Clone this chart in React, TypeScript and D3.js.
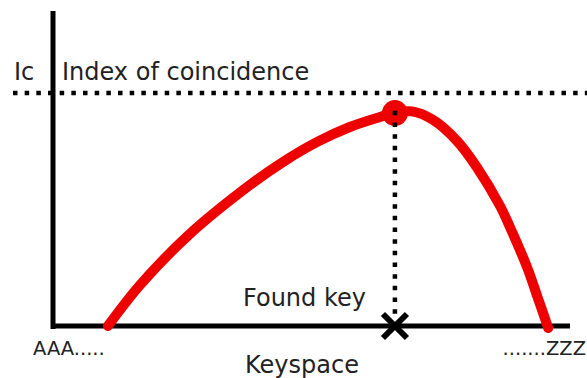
import React from "react";
import * as d3 from "d3";

// Keyspace position (fraction of keyspace) and normalized index of coincidence
const keyPositions = [0.108, 0.17, 0.266, 0.382, 0.446, 0.512, 0.575, 0.627, 0.662, 0.695, 0.736, 0.782, 0.82, 0.865, 0.884, 0.917, 0.938, 0.958];
const icValues = [0.0, 0.176, 0.395, 0.605, 0.704, 0.79, 0.854, 0.893, 0.914, 0.921, 0.884, 0.794, 0.682, 0.515, 0.425, 0.253, 0.12, -0.009];

const foundKey = 0.662;
const foundIc = 0.918;
const maxIc = 1.0;

const xLabels = ["AAA.....", ".......ZZZ"];
const axisTitles = ["Keyspace", "Ic", "Index of coincidence", "Found key"];

export default function App() {
  const W = 587;
  const H = 378;
  const x = d3.scaleLinear().domain([0, 1]).range([52, 570]);
  const y = d3.scaleLinear().domain([0, 1]).range([326, 93]);

  const pts: [number, number][] = keyPositions.map((k, i) => [k, icValues[i]]);
  const line = d3
    .line<[number, number]>()
    .x((d) => x(d[0]))
    .y((d) => y(d[1]))
    .curve(d3.curveCatmullRom.alpha(0.5));

  const fx = x(foundKey);
  const fy = y(foundIc);
  const axisY = y(0);
  const arm = 12;
  const font = "'DejaVu Sans', Verdana, sans-serif";
  const textColor = "#222";

  return (
    <svg
      width={W}
      height={H}
      style={{ position: "absolute", left: 0, top: 0, background: "#fff" }}
    >
      {/* Max IC dotted line */}
      <line
        x1={13}
        x2={W}
        y1={y(maxIc)}
        y2={y(maxIc)}
        stroke="#000"
        strokeWidth={4.5}
        strokeDasharray="4.5 7.17"
      />
      {/* Axes */}
      <line x1={53} x2={53} y1={11} y2={329} stroke="#000" strokeWidth={5} />
      <line x1={51} x2={570} y1={axisY} y2={axisY} stroke="#000" strokeWidth={5} />

      {/* IC curve */}
      <path
        d={line(pts) || ""}
        fill="none"
        stroke="#ee0000"
        strokeWidth={10}
        strokeLinecap="round"
        strokeLinejoin="round"
      />
      <circle cx={fx} cy={fy + 1} r={13} fill="#ee0000" />

      {/* Vertical dotted line from peak */}
      <line
        x1={fx}
        x2={fx}
        y1={fy - 1.3}
        y2={315}
        stroke="#000"
        strokeWidth={4.5}
        strokeDasharray="4.5 7.17"
      />
      {/* X marker */}
      <g stroke="#000" strokeWidth={6}>
        <line x1={fx - arm} y1={axisY - arm} x2={fx + arm} y2={axisY + arm} />
        <line x1={fx - arm} y1={axisY + arm} x2={fx + arm} y2={axisY - arm} />
      </g>

      {/* Texts */}
      <text x={14} y={80} fontFamily={font} fontSize={24} fill={textColor}>
        {axisTitles[1]}
      </text>
      <text x={62} y={80} fontFamily={font} fontSize={24} fill={textColor}>
        {axisTitles[2]}
      </text>
      <text x={243} y={306} fontFamily={font} fontSize={24} fill={textColor}>
        {axisTitles[3]}
      </text>
      <text x={245} y={373} fontFamily={font} fontSize={24} fill={textColor}>
        {axisTitles[0]}
      </text>
      <text x={33} y={355} fontFamily={font} fontSize={19.5} fill={textColor}>
        {xLabels[0]}
      </text>
      <text x={586} y={355} fontFamily={font} fontSize={19.5} fill={textColor} textAnchor="end">
        {xLabels[1]}
      </text>
    </svg>
  );
}
